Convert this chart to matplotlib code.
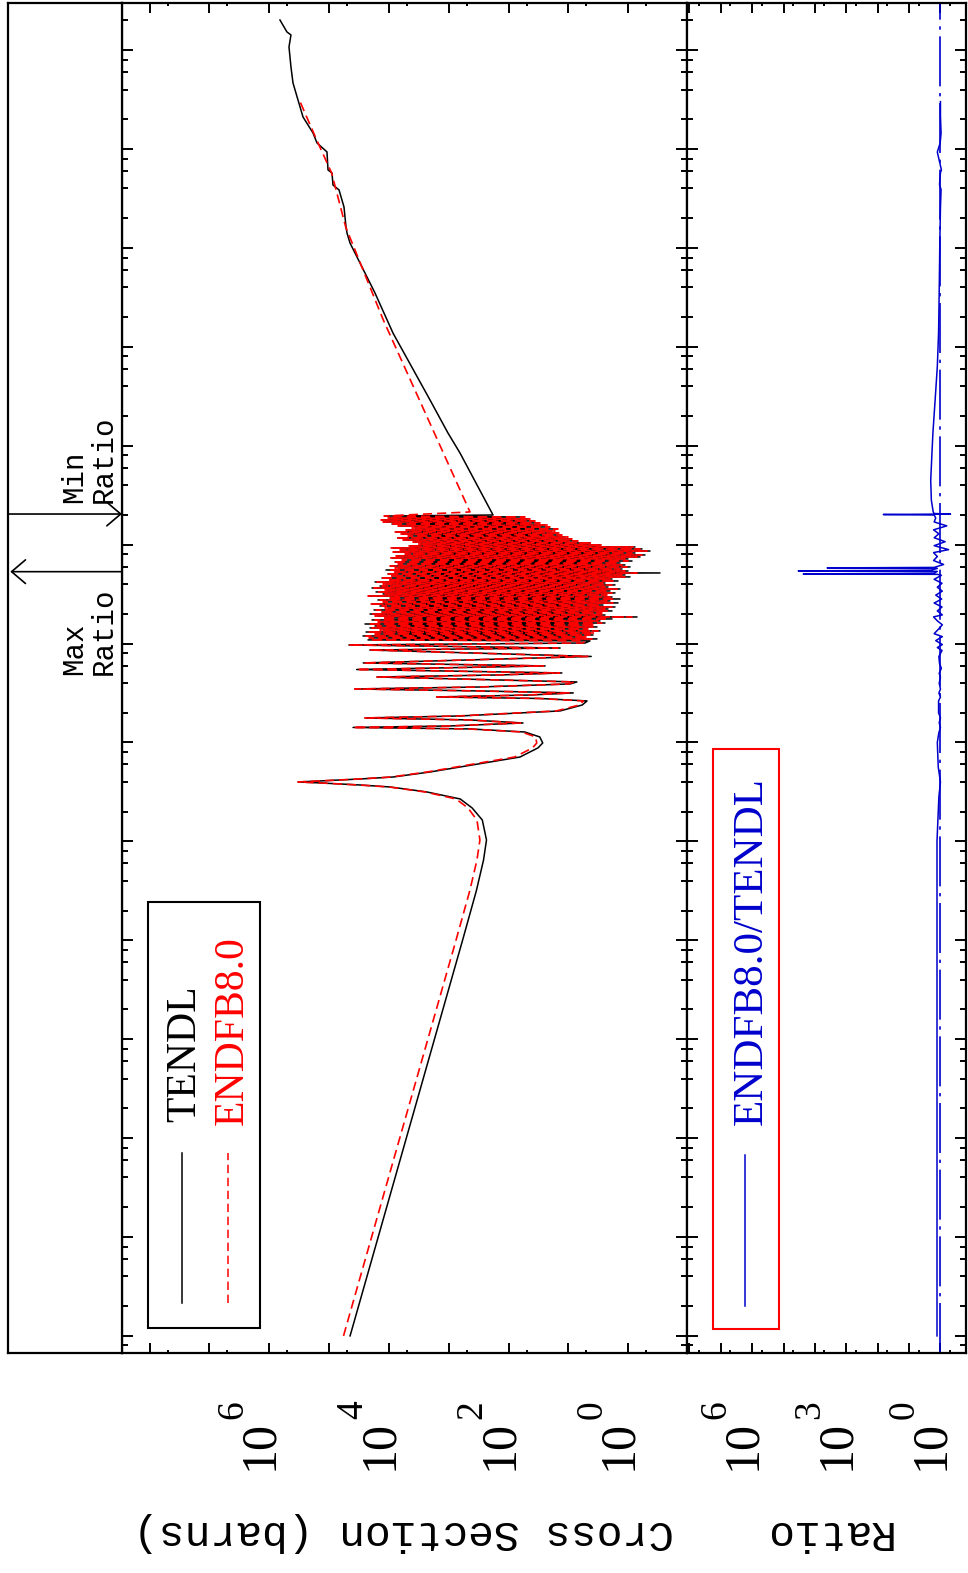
import numpy as np
import matplotlib
matplotlib.use("Agg")
import matplotlib.pyplot as plt
import matplotlib.transforms as mtransforms
from matplotlib.patches import Rectangle
from matplotlib.lines import Line2D
from matplotlib.ticker import LogLocator

# all values are log10: energy in eV, cross section in barns, ratio ENDF/TENDL
# thermal + first resonances (same energy grid for both libraries)
low_lg_e = [-5.0, -4.0, -3.0, -2.0, -1.0, -0.5, -0.19, 0.014, 0.216, 0.338, 0.429, 0.500,
            0.550, 0.570, 0.591, 0.601, 0.611, 0.631, 0.651, 0.702, 0.752, 0.853, 0.945,
            0.995, 1.056, 1.106, 1.137, 1.152, 1.167, 1.197, 1.228, 1.248, 1.268, 1.319,
            1.379, 1.420, 1.445, 1.460, 1.480, 1.501, 1.521, 1.541, 1.561, 1.592, 1.612,
            1.637, 1.662, 1.683, 1.703, 1.738, 1.774, 1.804, 1.870, 1.935, 1.955, 1.986, 2.006]
tendl_low_lg_xs = [4.65, 4.18, 3.71, 3.24, 2.77, 2.54, 2.42, 2.37, 2.44, 2.61, 2.81, 3.37,
                   3.98, 4.48, 5.15, 5.52, 5.15, 4.48, 3.93, 3.31, 2.81, 1.81, 1.51, 1.43,
                   1.48, 1.73, 2.65, 4.60, 2.98, 1.76, 2.65, 4.40, 2.81, 1.14, 0.77, 0.69,
                   1.48, 3.20, 1.64, 0.92, 2.48, 4.57, 2.48, 0.97, 0.86, 2.48, 4.20, 2.14,
                   1.11, 4.54, 1.39, 4.43, 0.62, 4.32, 1.14, 4.67, 0.72]
endf_low_lg_xs = [4.76, 4.29, 3.82, 3.35, 2.88, 2.65, 2.53, 2.48, 2.53, 2.68, 2.88, 3.40,
                  4.00, 4.50, 5.15, 5.52, 5.15, 4.50, 3.96, 3.36, 2.88, 1.90, 1.60, 1.53,
                  1.55, 1.78, 2.68, 4.60, 3.00, 1.80, 2.68, 4.40, 2.85, 1.20, 0.82, 0.75,
                  1.50, 3.20, 1.68, 0.97, 2.50, 4.57, 2.50, 1.00, 0.90, 2.50, 4.20, 2.18,
                  1.15, 4.54, 1.42, 4.43, 0.68, 4.32, 1.18, 4.67, 0.76]

# dense resolved resonances (valley, peak, valley, ...)
res_lg_e = [2.027, 2.037, 2.047, 2.057, 2.067, 2.077, 2.087, 2.097, 2.107, 2.117, 2.128,
            2.138, 2.148, 2.158, 2.168, 2.178, 2.188, 2.198, 2.208, 2.218, 2.229, 2.239,
            2.249, 2.259, 2.269, 2.279, 2.289, 2.299, 2.310, 2.320, 2.330, 2.340, 2.350,
            2.360, 2.370, 2.380, 2.390, 2.400, 2.411, 2.421, 2.431, 2.441, 2.451, 2.461,
            2.471, 2.481, 2.492, 2.502, 2.512, 2.522, 2.532, 2.542, 2.552, 2.562, 2.572,
            2.582, 2.593, 2.603, 2.613, 2.623, 2.633, 2.643, 2.653, 2.663, 2.674, 2.684,
            2.694, 2.704, 2.714, 2.724, 2.734, 2.744, 2.754, 2.765, 2.775, 2.785, 2.795,
            2.805, 2.815, 2.825, 2.835, 2.845, 2.856, 2.866, 2.876, 2.886, 2.896, 2.906,
            2.916, 2.926, 2.936, 2.947, 2.957, 2.967, 2.977, 2.987, 2.997, 3.007, 3.017,
            3.027, 3.038, 3.048, 3.058, 3.068, 3.078, 3.088, 3.098, 3.108, 3.118, 3.129,
            3.139, 3.149, 3.159, 3.169, 3.179, 3.189, 3.199, 3.209, 3.220, 3.230, 3.240,
            3.250, 3.260, 3.270, 3.280, 3.290]
tendl_res_lg_xs = [0.640, 4.351, 0.523, 4.284, 0.724, 4.434, 0.590, 4.184, 0.640, 4.384,
                   0.473, 4.100, 0.724, 4.317, 0.523, 4.234, 0.607, 4.401, 0.389, 4.150,
                   0.473, 4.284, 0.272, 4.067, -0.146, 4.200, 0.389, 4.317, 0.473, 4.117,
                   0.272, 4.250, 0.339, 4.016, 0.222, 4.150, 0.423, 4.284, 0.172, 4.067,
                   0.306, 4.184, 0.139, 3.983, 0.272, 4.317, 0.389, 4.100, 0.222, 4.217,
                   0.306, 4.033, 0.139, 4.284, 0.339, 4.150, 0.222, 4.067, 0.389, 4.234,
                   0.172, 3.983, 0.272, 4.117, -0.029, 3.950, 0.055, 4.016, -0.530, 3.899,
                   0.005, 4.050, 0.105, 3.849, -0.029, 3.950, 0.055, 3.816, 0.139, 3.899,
                   -0.062, 3.732, 0.005, 3.950, -0.196, 3.849, -0.279, 3.699, -0.112, 3.899,
                   -0.363, 3.782, -0.229, 3.933, -0.112, 3.649, 0.473, 3.482, 0.640, 3.565,
                   0.891, 3.732, 0.974, 3.849, 1.058, 3.649, 1.142, 3.782, 1.175, 3.883,
                   1.275, 3.682, 1.225, 3.565, 1.342, 3.816, 1.392, 3.950, 1.526, 4.067,
                   1.610, 4.100, 1.676, 3.983, 1.777, 4.050]
endf_res_lg_xs = [0.724, 4.317, 0.607, 4.334, 0.674, 4.384, 0.640, 4.234, 0.557, 4.351,
                  0.506, 4.150, 0.674, 4.284, 0.590, 4.200, 0.557, 4.351, 0.440, 4.184,
                  0.506, 4.234, 0.339, 4.117, -0.062, 4.234, 0.423, 4.284, 0.440, 4.150,
                  0.339, 4.217, 0.389, 4.067, 0.272, 4.117, 0.473, 4.317, 0.256, 4.100,
                  0.356, 4.150, 0.222, 4.016, 0.306, 4.351, 0.356, 4.067, 0.272, 4.184,
                  0.339, 4.067, 0.189, 4.250, 0.389, 4.117, 0.272, 4.100, 0.423, 4.200,
                  0.222, 4.016, 0.306, 4.150, 0.055, 3.983, 0.105, 4.050, -0.146, 3.933,
                  0.055, 4.016, 0.139, 3.899, 0.022, 3.983, 0.105, 3.849, 0.172, 3.933,
                  0.005, 3.782, 0.055, 3.983, -0.146, 3.883, -0.229, 3.732, -0.062, 3.933,
                  -0.313, 3.816, -0.196, 3.966, -0.079, 3.682, 0.440, 3.515, 0.607, 3.599,
                  0.841, 3.766, 0.941, 3.883, 1.008, 3.682, 1.108, 3.816, 1.142, 3.916,
                  1.225, 3.716, 1.175, 3.615, 1.309, 3.849, 1.342, 3.983, 1.476, 4.100,
                  1.559, 4.133, 1.643, 4.016, 1.727, 4.083]

# smooth high energy part
tendl_fast_lg_e = [3.300, 3.452, 3.927, 4.129, 4.463, 5.140, 5.545, 5.747, 6.050, 6.152,
                   6.212, 6.415, 6.587, 6.637, 6.758, 6.789, 6.971, 7.062, 7.163, 7.325,
                   7.497, 7.668, 7.830, 8.032, 8.154, 8.184, 8.305]
tendl_fast_lg_xs = [2.261, 2.395, 2.813, 3.014, 3.314, 3.933, 4.234, 4.401, 4.651, 4.702,
                    4.718, 4.752, 4.835, 4.936, 4.952, 5.019, 5.036, 5.203, 5.270, 5.437,
                    5.521, 5.604, 5.638, 5.671, 5.638, 5.705, 5.822]
endf_fast_lg_e = [3.331, 5.272, 6.212, 6.758, 7.092, 7.497]
endf_fast_lg_xs = [2.646, 4.095, 4.723, 4.958, 5.208, 5.499]

ratio_lg_e = [-5.0, 0.0, 0.45, 0.6, 0.75, 1.0, 1.1, 1.15, 1.2, 1.25, 1.3, 1.42, 1.46, 1.5,
              1.54, 1.6, 1.66, 1.7, 1.75, 1.8, 1.87, 1.93, 1.96, 1.99, 2.03, 2.07, 2.1,
              2.15, 2.19, 2.23, 2.27, 2.29, 2.33, 2.37, 2.41, 2.45, 2.49, 2.53, 2.57, 2.61,
              2.65, 2.69, 2.700, 2.704, 2.712, 2.730, 2.735, 2.742, 2.760, 2.765, 2.770,
              2.80, 2.84, 2.88, 2.92, 2.95, 2.99, 3.03, 3.07, 3.11, 3.15, 3.19, 3.23, 3.27,
              3.30, 3.305, 3.31, 3.315, 3.33, 3.45, 3.65, 3.93, 4.13, 4.46, 4.8, 5.14, 5.55,
              6.05, 6.41, 6.59, 6.64, 6.76, 6.79, 6.97, 7.06, 7.16, 7.33, 7.48]
ratio_lg_r = [0.11, 0.11, 0.05, 0.0, 0.07, 0.10, 0.05, 0.0, 0.04, 0.0, 0.06, 0.06, 0.0, 0.05,
              0.0, 0.04, 0.0, 0.04, -0.03, 0.03, 0.05, -0.05, 0.10, -0.06, 0.15, -0.06, 0.20,
              0.05, -0.06, 0.10, 0.22, -0.06, 0.10, -0.05, 0.20, -0.04, 0.15, -0.06, 0.10,
              -0.05, 0.20, -0.03, 0.10, 4.37, 0.20, 0.10, 4.53, 0.30, 0.10, 3.61, 0.20,
              -0.10, 0.22, 0.10, 0.22, -0.26, 0.20, -0.15, 0.20, 0.05, 0.22, -0.20, 0.20,
              0.15, 0.20, 1.82, -0.32, 0.20, 0.23, 0.29, 0.31, 0.27, 0.24, 0.17, 0.10, 0.06,
              0.04, 0.02, 0.0, -0.02, 0.03, 0.0, -0.03, 0.10, 0.01, -0.02, 0.0, 0.0]

max_ratio_lg_e = 2.727
min_ratio_lg_e = 3.310
xs_label_exps = [0, 2, 4, 6]
ratio_label_exps = [0, 3, 6]

E_LIM = (10**-5.168, 10**8.482)
XS_LIM = (10**8.462, 10**-0.976)
R_LIM = (10**8.085, 10**-0.83)
BLUE = '#0000cd'

W, H = 968, 1573
fig = plt.figure(figsize=(W / 100, H / 100), dpi=100)


def px_box(x0, x1, y0=2.5, y1=1352.5):
    return [x0 / W, 1 - y1 / H, (x1 - x0) / W, (y1 - y0) / H]


def px_shift(dx):
    return mtransforms.ScaledTranslation(dx / 100, 0, fig.dpi_scale_trans)


ax = fig.add_axes(px_box(122, 686.7))
rax = fig.add_axes(px_box(686.7, 966.5))
bax = fig.add_axes(px_box(8, 122))

for a in (ax, rax, bax):
    a.set_yscale('log')
    a.set_ylim(*E_LIM)
    for s in a.spines.values():
        s.set_linewidth(1.6)

ax.set_xscale('log')
ax.set_xlim(*XS_LIM)
rax.set_xscale('log')
rax.set_xlim(*R_LIM)

for a in (ax, rax):
    a.yaxis.set_major_locator(LogLocator(base=10, numticks=40))
    a.yaxis.set_minor_locator(LogLocator(base=10, subs=(2, 4, 6, 8), numticks=40))
    a.xaxis.set_major_locator(LogLocator(base=10, numticks=40))
    a.xaxis.set_minor_locator(LogLocator(base=10, subs=(5,), numticks=40))
    a.tick_params(which='both', direction='in', left=True, right=True, top=True,
                  bottom=True, labelleft=False, labelbottom=False, width=1.4)
    a.tick_params(axis='y', which='major', length=7.8)
    a.tick_params(axis='y', which='minor', length=4.0)
    a.tick_params(axis='x', which='major', length=7.3)
    a.tick_params(axis='x', which='minor', length=2.4)

bax.tick_params(which='both', left=False, right=False, top=False, bottom=False,
                labelleft=False, labelbottom=False)
bax.set_xlim(0, 1)

# cross sections
tendl_e = 10 ** np.array(low_lg_e + res_lg_e + tendl_fast_lg_e)
tendl_xs = 10 ** np.array(tendl_low_lg_xs + tendl_res_lg_xs + tendl_fast_lg_xs)
endf_e = 10 ** np.array(low_lg_e + res_lg_e + endf_fast_lg_e)
endf_xs = 10 ** np.array(endf_low_lg_xs + endf_res_lg_xs + endf_fast_lg_xs)
ax.plot(tendl_xs, tendl_e, color='black', lw=1.1)
ax.plot(endf_xs, endf_e, color='red', lw=1.2, ls=(0, (5.5, 3)))

# ratio
rax.axvline(1.0, color=BLUE, lw=1.2, ls=(0, (30, 4, 2, 4)))
rax.plot(10 ** np.array(ratio_lg_r), 10 ** np.array(ratio_lg_e), color=BLUE, lw=1.1)


# tick labels, rotated with the page: "10" plus a raised exponent
def decade_labels(a, exps):
    tr = a.get_xaxis_transform()
    for e in exps:
        a.text(10 ** e, -0.087, '10', transform=tr + px_shift(3), rotation=90,
               rotation_mode='anchor', ha='left', va='baseline',
               family='Liberation Serif', fontsize=36)
        a.text(10 ** e, -0.0495, str(e), transform=tr + px_shift(-27), rotation=90,
               rotation_mode='anchor', ha='left', va='baseline',
               family='Liberation Serif', fontsize=27)


decade_labels(ax, xs_label_exps)
decade_labels(rax, ratio_label_exps)

fig.text(404 / W, 1 - 1532 / H, 'Cross Section (barns)', rotation=180, ha='center',
         va='center', family='Liberation Mono', fontsize=31)
fig.text(826 / W, 1 - 1532 / H, 'Ratio', rotation=180, ha='center', va='center',
         family='Liberation Mono', fontsize=31)

# legends
ax.add_patch(Rectangle((0.0466, 0.0182), 0.1978, 0.3157, transform=ax.transAxes,
                       fill=False, ec='black', lw=1.5))
ax.add_line(Line2D([0.1057, 0.1057], [0.0367, 0.1477], transform=ax.transAxes,
                   color='black', lw=1.1))
ax.add_line(Line2D([0.1877, 0.1877], [0.0367, 0.1477], transform=ax.transAxes,
                   color='red', lw=1.1, ls=(0, (5.5, 3))))
ax.text(0.1293, 0.1707, 'TENDL', transform=ax.transAxes, rotation=90,
        rotation_mode='anchor', ha='left', va='baseline', family='Liberation Serif',
        fontsize=30, color='black')
ax.text(0.2143, 0.1685, 'ENDFB8.0', transform=ax.transAxes, rotation=90,
        rotation_mode='anchor', ha='left', va='baseline', family='Liberation Serif',
        fontsize=30, color='red')

rax.add_patch(Rectangle((0.094, 0.0174), 0.236, 0.4296, transform=rax.transAxes,
                        fill=False, ec='red', lw=1.5))
rax.add_line(Line2D([0.2084, 0.2084], [0.0344, 0.146], transform=rax.transAxes,
                    color=BLUE, lw=1.1))
rax.text(0.269, 0.1685, 'ENDFB8.0/TENDL', transform=rax.transAxes, rotation=90,
         rotation_mode='anchor', ha='left', va='baseline', family='Liberation Serif',
         fontsize=31, color=BLUE)

# max / min ratio markers
arrow = dict(arrowstyle='->,head_length=1.0,head_width=0.85', color='black', lw=1.2,
             shrinkA=0, shrinkB=0)
bax.annotate('', xy=(1.0, 10 ** min_ratio_lg_e), xytext=(0.0, 10 ** min_ratio_lg_e),
             xycoords='data', textcoords='data', arrowprops=arrow)
bax.annotate('', xy=(0.02, 10 ** max_ratio_lg_e), xytext=(1.0, 10 ** max_ratio_lg_e),
             xycoords='data', textcoords='data', arrowprops=arrow)
bax.text(0.96, 10 ** 3.422, 'Min\nRatio', rotation=90, ha='right', va='bottom',
         multialignment='left', family='Liberation Mono', fontsize=21, linespacing=1.05)
bax.text(0.96, 10 ** 2.562, 'Max\nRatio', rotation=90, ha='right', va='top',
         multialignment='left', family='Liberation Mono', fontsize=21, linespacing=1.05)

fig.savefig('out.png', dpi=100)
